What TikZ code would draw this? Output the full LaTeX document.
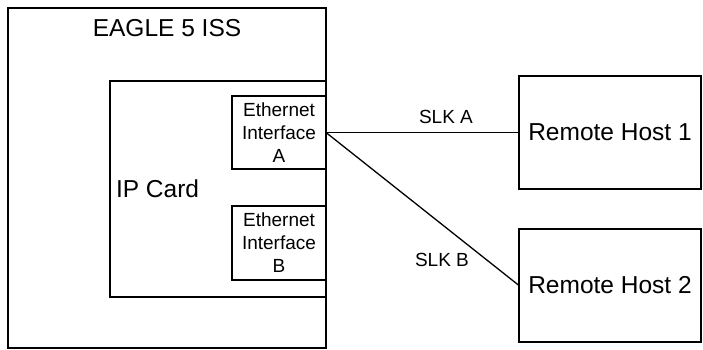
\documentclass[tikz,border=0pt]{standalone}
\usepackage{fontspec}
\setmainfont{Liberation Sans}
\begin{document}
\begin{tikzpicture}[x=1pt,y=-1pt,
  box/.style={draw,line width=1.3pt,rectangle,inner sep=0pt,outer sep=0pt},
  big/.style={font=\fontsize{24.5}{29}\selectfont},
  small/.style={font=\fontsize{19}{23}\selectfont},
  lbl/.style={inner sep=0pt,outer sep=0pt},
  link/.style={line width=1.3pt}]
\useasboundingbox (0,0) rectangle (703,350);
\node[box,minimum width=318pt,minimum height=340pt] (eagle) at (167,178) {};
\node[box,minimum width=216pt,minimum height=216pt] (ipcard) at (218,189) {};
\node[box,small,align=center,minimum width=94pt,minimum height=73pt] (etha) at (279,132.5) {Ethernet\\Interface\\A};
\node[box,small,align=center,minimum width=94pt,minimum height=74pt] (ethb) at (279,243) {Ethernet\\Interface\\B};
\node[box,big,minimum width=182pt,minimum height=113pt] (host1) at (610,132.5) {Remote Host 1};
\node[box,big,minimum width=182pt,minimum height=113pt] (host2) at (610,285.5) {Remote Host 2};
\node[lbl,big] (eaglet) at (167,28) {EAGLE 5 ISS};
\node[lbl,big,anchor=west] (ipt) at (116,189) {IP Card};
\node[lbl,small] (slka) at (446,117) {SLK A};
\node[lbl,small] (slkb) at (442,260) {SLK B};
\draw[link] (etha.east) -- (host1.west);
\draw[link] (etha.east) -- (host2.west);
\end{tikzpicture}
\end{document}
